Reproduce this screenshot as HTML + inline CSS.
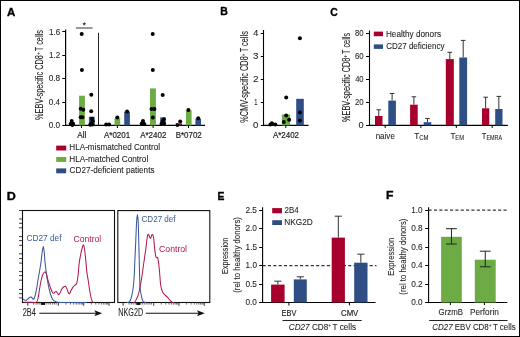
<!DOCTYPE html>
<html><head><meta charset="utf-8"><style>
html,body{margin:0;padding:0;background:#fff;}
svg{display:block;font-family:"Liberation Sans", sans-serif;will-change:transform;}
</style></head><body>
<svg width="520" height="337" viewBox="0 0 520 337">
<rect x="0" y="0" width="520" height="337" fill="#fff"/>
<rect x="0.50" y="0.50" width="519.00" height="336.00" fill="none" stroke="#000" stroke-width="1"/>
<text x="7.11" y="15.60" font-size="11.48" fill="#000" font-weight="bold" stroke="#000" stroke-width="0.35" textLength="8.29" lengthAdjust="spacingAndGlyphs"><tspan font-weight="bold">A</tspan></text>
<text x="220.20" y="15.20" font-size="11.48" fill="#000" font-weight="bold" stroke="#000" stroke-width="0.35" textLength="7.58" lengthAdjust="spacingAndGlyphs"><tspan font-weight="bold">B</tspan></text>
<text x="330.27" y="15.60" font-size="11.48" fill="#000" font-weight="bold" stroke="#000" stroke-width="0.35" textLength="7.51" lengthAdjust="spacingAndGlyphs"><tspan font-weight="bold">C</tspan></text>
<text x="6.66" y="199.50" font-size="11.48" fill="#000" font-weight="bold" stroke="#000" stroke-width="0.35" textLength="9.07" lengthAdjust="spacingAndGlyphs"><tspan font-weight="bold">D</tspan></text>
<text x="217.41" y="199.50" font-size="11.48" fill="#000" font-weight="bold" stroke="#000" stroke-width="0.35" textLength="6.90" lengthAdjust="spacingAndGlyphs"><tspan font-weight="bold">E</tspan></text>
<text x="386.08" y="199.20" font-size="11.48" fill="#000" font-weight="bold" stroke="#000" stroke-width="0.35" textLength="7.47" lengthAdjust="spacingAndGlyphs"><tspan font-weight="bold">F</tspan></text>
<line x1="65.60" y1="29.50" x2="65.60" y2="125.90" stroke="#000" stroke-width="1.2" />
<line x1="65.10" y1="125.40" x2="205.00" y2="125.40" stroke="#000" stroke-width="1.1" />
<line x1="62.30" y1="125.50" x2="65.60" y2="125.50" stroke="#000" stroke-width="1" />
<text x="48.68" y="127.95" font-size="9.16" fill="#222" stroke="#222" stroke-width="0.08" textLength="11.44" lengthAdjust="spacingAndGlyphs"><tspan>0.0</tspan></text>
<line x1="62.30" y1="102.50" x2="65.60" y2="102.50" stroke="#000" stroke-width="1" />
<text x="48.68" y="104.59" font-size="9.16" fill="#222" stroke="#222" stroke-width="0.08" textLength="11.36" lengthAdjust="spacingAndGlyphs"><tspan>0.4</tspan></text>
<line x1="62.30" y1="78.50" x2="65.60" y2="78.50" stroke="#000" stroke-width="1" />
<text x="48.68" y="81.23" font-size="9.16" fill="#222" stroke="#222" stroke-width="0.08" textLength="11.48" lengthAdjust="spacingAndGlyphs"><tspan>0.8</tspan></text>
<line x1="62.30" y1="55.50" x2="65.60" y2="55.50" stroke="#000" stroke-width="1" />
<text x="48.99" y="57.87" font-size="9.16" fill="#222" stroke="#222" stroke-width="0.08" textLength="11.22" lengthAdjust="spacingAndGlyphs"><tspan>1.2</tspan></text>
<line x1="62.30" y1="31.50" x2="65.60" y2="31.50" stroke="#000" stroke-width="1" />
<text x="48.99" y="34.51" font-size="9.16" fill="#222" stroke="#222" stroke-width="0.08" textLength="11.16" lengthAdjust="spacingAndGlyphs"><tspan>1.6</tspan></text>
<text transform="translate(43.40,119.70) rotate(-90)" x="-0.26" y="0" font-size="10.32" fill="#222" stroke="#222" stroke-width="0.08" textLength="89.92" lengthAdjust="spacingAndGlyphs"><tspan>%EBV-specific CD8</tspan><tspan font-size="6.19" dy="-3.00">+ </tspan><tspan dy="3.00"> T cells</tspan></text>
<line x1="98.50" y1="32.80" x2="98.50" y2="125.40" stroke="#222" stroke-width="1" />
<line x1="75.90" y1="28.00" x2="92.60" y2="28.00" stroke="#555" stroke-width="1.2" />
<polygon points="84.30,22.00 84.80,23.21 86.11,23.31 85.11,24.16 85.42,25.44 84.30,24.75 83.18,25.44 83.49,24.16 82.49,23.31 83.80,23.21" fill="#222"/>
<rect x="79.10" y="95.70" width="5.80" height="29.70" fill="#6dab45"/>
<rect x="88.90" y="116.70" width="5.70" height="8.70" fill="#2f4e86"/>
<rect x="70.50" y="124.30" width="4.00" height="1.10" fill="#a8002c"/>
<rect x="114.50" y="118.20" width="5.70" height="7.20" fill="#6dab45"/>
<rect x="124.20" y="111.60" width="5.70" height="13.80" fill="#2f4e86"/>
<rect x="150.00" y="88.40" width="5.90" height="37.00" fill="#6dab45"/>
<rect x="160.20" y="117.40" width="5.50" height="8.00" fill="#2f4e86"/>
<rect x="185.90" y="110.20" width="5.70" height="15.20" fill="#6dab45"/>
<rect x="195.40" y="118.70" width="5.60" height="6.70" fill="#2f4e86"/>
<rect x="178.90" y="123.40" width="3.10" height="2.00" fill="#a8002c"/>
<line x1="81.50" y1="125.40" x2="81.50" y2="128.00" stroke="#000" stroke-width="1" />
<line x1="117.40" y1="125.40" x2="117.40" y2="128.00" stroke="#000" stroke-width="1" />
<line x1="153.10" y1="125.40" x2="153.10" y2="128.00" stroke="#000" stroke-width="1" />
<line x1="188.50" y1="125.40" x2="188.50" y2="128.00" stroke="#000" stroke-width="1" />
<text x="77.28" y="137.80" font-size="9.01" fill="#222" stroke="#222" stroke-width="0.2" textLength="9.06" lengthAdjust="spacingAndGlyphs"><tspan>All</tspan></text>
<text x="103.98" y="137.80" font-size="9.01" fill="#222" stroke="#222" stroke-width="0.2" textLength="26.21" lengthAdjust="spacingAndGlyphs"><tspan>A*0201</tspan></text>
<text x="140.18" y="137.80" font-size="9.01" fill="#222" stroke="#222" stroke-width="0.2" textLength="26.22" lengthAdjust="spacingAndGlyphs"><tspan>A*2402</tspan></text>
<text x="175.75" y="137.80" font-size="9.01" fill="#222" stroke="#222" stroke-width="0.2" textLength="25.95" lengthAdjust="spacingAndGlyphs"><tspan>B*0702</tspan></text>
<circle cx="71.70" cy="121.00" r="2.0" fill="#000"/>
<circle cx="70.70" cy="123.70" r="2.0" fill="#000"/>
<circle cx="73.10" cy="123.70" r="2.0" fill="#000"/>
<circle cx="72.30" cy="125.00" r="2.0" fill="#000"/>
<circle cx="81.70" cy="33.90" r="2.0" fill="#000"/>
<circle cx="81.90" cy="70.00" r="2.0" fill="#000"/>
<circle cx="80.70" cy="108.70" r="2.0" fill="#000"/>
<circle cx="83.30" cy="109.70" r="2.0" fill="#000"/>
<circle cx="80.70" cy="117.30" r="2.0" fill="#000"/>
<circle cx="82.40" cy="117.30" r="2.0" fill="#000"/>
<circle cx="91.30" cy="94.70" r="2.0" fill="#000"/>
<circle cx="91.20" cy="111.30" r="2.0" fill="#000"/>
<circle cx="92.00" cy="118.80" r="2.0" fill="#000"/>
<circle cx="92.90" cy="121.00" r="2.0" fill="#000"/>
<circle cx="91.40" cy="123.40" r="2.0" fill="#000"/>
<circle cx="92.50" cy="124.60" r="2.0" fill="#000"/>
<circle cx="90.30" cy="124.80" r="2.0" fill="#000"/>
<circle cx="106.20" cy="124.40" r="2.0" fill="#000"/>
<circle cx="109.10" cy="124.40" r="2.0" fill="#000"/>
<circle cx="117.30" cy="117.50" r="2.0" fill="#000"/>
<circle cx="127.10" cy="111.40" r="2.0" fill="#000"/>
<circle cx="143.00" cy="120.90" r="2.0" fill="#000"/>
<circle cx="141.70" cy="123.60" r="2.0" fill="#000"/>
<circle cx="144.30" cy="123.90" r="2.0" fill="#000"/>
<circle cx="151.50" cy="108.90" r="2.0" fill="#000"/>
<circle cx="154.40" cy="108.90" r="2.0" fill="#000"/>
<circle cx="152.80" cy="117.60" r="2.0" fill="#000"/>
<circle cx="152.80" cy="69.90" r="2.0" fill="#000"/>
<circle cx="152.70" cy="34.00" r="2.0" fill="#000"/>
<circle cx="162.70" cy="95.10" r="2.0" fill="#000"/>
<circle cx="163.80" cy="119.30" r="2.0" fill="#000"/>
<circle cx="162.60" cy="121.60" r="2.0" fill="#000"/>
<circle cx="164.00" cy="123.40" r="2.0" fill="#000"/>
<circle cx="161.50" cy="124.00" r="2.0" fill="#000"/>
<circle cx="180.20" cy="121.60" r="2.0" fill="#000"/>
<circle cx="177.40" cy="124.90" r="2.0" fill="#000"/>
<circle cx="188.40" cy="110.10" r="2.0" fill="#000"/>
<circle cx="198.20" cy="118.30" r="2.0" fill="#000"/>
<rect x="56.20" y="145.60" width="10.00" height="4.90" fill="#a8002c"/>
<text x="69.33" y="150.10" font-size="8.87" fill="#222" stroke="#222" stroke-width="0.08" textLength="90.81" lengthAdjust="spacingAndGlyphs"><tspan>HLA-mismatched Control</tspan></text>
<rect x="56.20" y="157.00" width="10.00" height="4.90" fill="#6dab45"/>
<text x="69.33" y="161.50" font-size="8.87" fill="#222" stroke="#222" stroke-width="0.08" textLength="78.92" lengthAdjust="spacingAndGlyphs"><tspan>HLA-matched Control</tspan></text>
<rect x="56.20" y="168.40" width="10.00" height="4.90" fill="#2f4e86"/>
<text x="69.59" y="172.80" font-size="8.87" fill="#222" stroke="#222" stroke-width="0.08" textLength="84.91" lengthAdjust="spacingAndGlyphs"><tspan>CD27-deficient patients</tspan></text>
<line x1="263.50" y1="30.00" x2="263.50" y2="125.90" stroke="#000" stroke-width="1.1" />
<line x1="263.00" y1="125.40" x2="308.60" y2="125.40" stroke="#000" stroke-width="1.1" />
<line x1="260.80" y1="125.50" x2="263.50" y2="125.50" stroke="#000" stroke-width="1" />
<text x="253.12" y="127.95" font-size="9.16" fill="#222" stroke="#222" stroke-width="0.08" textLength="5.35" lengthAdjust="spacingAndGlyphs"><tspan>0</tspan></text>
<line x1="260.80" y1="102.50" x2="263.50" y2="102.50" stroke="#000" stroke-width="1" />
<text x="254.16" y="104.85" font-size="9.16" fill="#222" stroke="#222" stroke-width="0.08" textLength="3.22" lengthAdjust="spacingAndGlyphs"><tspan>1</tspan></text>
<line x1="260.80" y1="79.50" x2="263.50" y2="79.50" stroke="#000" stroke-width="1" />
<text x="252.99" y="81.75" font-size="9.16" fill="#222" stroke="#222" stroke-width="0.08" textLength="5.62" lengthAdjust="spacingAndGlyphs"><tspan>2</tspan></text>
<line x1="260.80" y1="56.50" x2="263.50" y2="56.50" stroke="#000" stroke-width="1" />
<text x="253.13" y="58.65" font-size="9.16" fill="#222" stroke="#222" stroke-width="0.08" textLength="5.40" lengthAdjust="spacingAndGlyphs"><tspan>3</tspan></text>
<line x1="260.80" y1="33.50" x2="263.50" y2="33.50" stroke="#000" stroke-width="1" />
<text x="253.29" y="35.55" font-size="9.16" fill="#222" stroke="#222" stroke-width="0.08" textLength="5.08" lengthAdjust="spacingAndGlyphs"><tspan>4</tspan></text>
<text transform="translate(247.60,122.50) rotate(-90)" x="-0.26" y="0" font-size="10.32" fill="#222" stroke="#222" stroke-width="0.08" textLength="91.62" lengthAdjust="spacingAndGlyphs"><tspan>%CMV-specific CD8</tspan><tspan font-size="6.19" dy="-3.00">+ </tspan><tspan dy="3.00"> T cells</tspan></text>
<rect x="281.90" y="114.50" width="8.20" height="10.90" fill="#6dab45"/>
<rect x="296.20" y="98.80" width="7.60" height="26.60" fill="#2f4e86"/>
<line x1="285.80" y1="125.40" x2="285.80" y2="128.00" stroke="#000" stroke-width="1" />
<text x="272.88" y="137.80" font-size="9.01" fill="#222" stroke="#222" stroke-width="0.2" textLength="26.12" lengthAdjust="spacingAndGlyphs"><tspan>A*2402</tspan></text>
<circle cx="270.40" cy="124.60" r="2.0" fill="#000"/>
<circle cx="271.90" cy="123.20" r="2.0" fill="#000"/>
<circle cx="275.30" cy="124.50" r="2.0" fill="#000"/>
<circle cx="286.20" cy="97.60" r="2.0" fill="#000"/>
<circle cx="286.20" cy="115.50" r="2.0" fill="#000"/>
<circle cx="283.80" cy="121.90" r="2.0" fill="#000"/>
<circle cx="289.10" cy="119.80" r="2.0" fill="#000"/>
<circle cx="299.90" cy="112.60" r="2.0" fill="#000"/>
<circle cx="299.90" cy="120.40" r="2.0" fill="#000"/>
<circle cx="299.90" cy="38.30" r="2.0" fill="#000"/>
<line x1="369.50" y1="30.50" x2="369.50" y2="125.90" stroke="#000" stroke-width="1.1" />
<line x1="369.00" y1="125.40" x2="507.80" y2="125.40" stroke="#000" stroke-width="1.1" />
<line x1="366.00" y1="125.50" x2="369.50" y2="125.50" stroke="#000" stroke-width="1" />
<text x="358.54" y="127.95" font-size="9.16" fill="#222" stroke="#222" stroke-width="0.08" textLength="5.12" lengthAdjust="spacingAndGlyphs"><tspan>0</tspan></text>
<line x1="366.00" y1="102.50" x2="369.50" y2="102.50" stroke="#000" stroke-width="1" />
<text x="354.91" y="104.85" font-size="9.16" fill="#222" stroke="#222" stroke-width="0.08" textLength="8.70" lengthAdjust="spacingAndGlyphs"><tspan>20</tspan></text>
<line x1="366.00" y1="79.50" x2="369.50" y2="79.50" stroke="#000" stroke-width="1" />
<text x="355.13" y="81.75" font-size="9.16" fill="#222" stroke="#222" stroke-width="0.08" textLength="8.47" lengthAdjust="spacingAndGlyphs"><tspan>40</tspan></text>
<line x1="366.00" y1="56.50" x2="369.50" y2="56.50" stroke="#000" stroke-width="1" />
<text x="354.90" y="58.65" font-size="9.16" fill="#222" stroke="#222" stroke-width="0.08" textLength="8.70" lengthAdjust="spacingAndGlyphs"><tspan>60</tspan></text>
<line x1="366.00" y1="33.50" x2="369.50" y2="33.50" stroke="#000" stroke-width="1" />
<text x="354.96" y="35.55" font-size="9.16" fill="#222" stroke="#222" stroke-width="0.08" textLength="8.64" lengthAdjust="spacingAndGlyphs"><tspan>80</tspan></text>
<text transform="translate(349.50,121.70) rotate(-90)" x="-0.25" y="0" font-size="10.32" fill="#222" stroke="#222" stroke-width="0.08" textLength="89.01" lengthAdjust="spacingAndGlyphs"><tspan>%EBV-specific CD8</tspan><tspan font-size="6.19" dy="-3.00">+ </tspan><tspan dy="3.00"> T cells</tspan></text>
<line x1="378.75" y1="109.80" x2="378.75" y2="116.00" stroke="#333" stroke-width="1" />
<line x1="376.45" y1="109.80" x2="381.05" y2="109.80" stroke="#333" stroke-width="1" />
<rect x="375.00" y="116.00" width="7.50" height="9.40" fill="#a8002c"/>
<line x1="392.10" y1="93.50" x2="392.10" y2="100.60" stroke="#333" stroke-width="1" />
<line x1="389.80" y1="93.50" x2="394.40" y2="93.50" stroke="#333" stroke-width="1" />
<rect x="388.30" y="100.60" width="7.60" height="24.80" fill="#2f4e86"/>
<line x1="413.90" y1="96.80" x2="413.90" y2="104.70" stroke="#333" stroke-width="1" />
<line x1="411.60" y1="96.80" x2="416.20" y2="96.80" stroke="#333" stroke-width="1" />
<rect x="410.10" y="104.70" width="7.60" height="20.70" fill="#a8002c"/>
<line x1="427.50" y1="118.40" x2="427.50" y2="122.20" stroke="#333" stroke-width="1" />
<line x1="425.20" y1="118.40" x2="429.80" y2="118.40" stroke="#333" stroke-width="1" />
<rect x="423.70" y="122.20" width="7.60" height="3.20" fill="#2f4e86"/>
<line x1="449.80" y1="52.30" x2="449.80" y2="59.10" stroke="#333" stroke-width="1" />
<line x1="447.50" y1="52.30" x2="452.10" y2="52.30" stroke="#333" stroke-width="1" />
<rect x="445.80" y="59.10" width="8.00" height="66.30" fill="#a8002c"/>
<line x1="463.20" y1="40.40" x2="463.20" y2="57.50" stroke="#333" stroke-width="1" />
<line x1="460.90" y1="40.40" x2="465.50" y2="40.40" stroke="#333" stroke-width="1" />
<rect x="459.30" y="57.50" width="7.80" height="67.90" fill="#2f4e86"/>
<line x1="485.65" y1="97.20" x2="485.65" y2="108.30" stroke="#333" stroke-width="1" />
<line x1="483.35" y1="97.20" x2="487.95" y2="97.20" stroke="#333" stroke-width="1" />
<rect x="482.00" y="108.30" width="7.30" height="17.10" fill="#a8002c"/>
<line x1="498.85" y1="96.40" x2="498.85" y2="109.00" stroke="#333" stroke-width="1" />
<line x1="496.55" y1="96.40" x2="501.15" y2="96.40" stroke="#333" stroke-width="1" />
<rect x="495.20" y="109.00" width="7.30" height="16.40" fill="#2f4e86"/>
<line x1="385.20" y1="125.40" x2="385.20" y2="128.00" stroke="#000" stroke-width="1" />
<line x1="420.90" y1="125.40" x2="420.90" y2="128.00" stroke="#000" stroke-width="1" />
<line x1="456.30" y1="125.40" x2="456.30" y2="128.00" stroke="#000" stroke-width="1" />
<line x1="492.20" y1="125.40" x2="492.20" y2="128.00" stroke="#000" stroke-width="1" />
<text x="375.67" y="138.60" font-size="9.01" fill="#222" stroke="#222" stroke-width="0.08" textLength="19.19" lengthAdjust="spacingAndGlyphs"><tspan>naive</tspan></text>
<text x="414.21" y="138.50" font-size="9.74" fill="#222" stroke="#222" stroke-width="0.08" textLength="14.38" lengthAdjust="spacingAndGlyphs"><tspan>T</tspan><tspan font-size="7.01" dy="1.80">CM</tspan></text>
<text x="450.42" y="138.50" font-size="9.74" fill="#222" stroke="#222" stroke-width="0.08" textLength="13.66" lengthAdjust="spacingAndGlyphs"><tspan>T</tspan><tspan font-size="7.01" dy="1.80">EM</tspan></text>
<text x="481.83" y="138.50" font-size="9.74" fill="#222" stroke="#222" stroke-width="0.08" textLength="20.18" lengthAdjust="spacingAndGlyphs"><tspan>T</tspan><tspan font-size="7.01" dy="1.80">EMRA</tspan></text>
<rect x="373.80" y="31.60" width="9.20" height="4.60" fill="#a8002c"/>
<rect x="373.80" y="44.40" width="9.20" height="4.50" fill="#2f4e86"/>
<text x="385.93" y="36.80" font-size="9.16" fill="#222" stroke="#222" stroke-width="0.08" textLength="55.07" lengthAdjust="spacingAndGlyphs"><tspan>Healthy donors</tspan></text>
<text x="386.19" y="49.20" font-size="9.16" fill="#222" stroke="#222" stroke-width="0.08" textLength="58.32" lengthAdjust="spacingAndGlyphs"><tspan>CD27 deficiency</tspan></text>
<rect x="22.5" y="210.5" width="92.0" height="92.0" fill="none" stroke="#111" stroke-width="1.1"/>
<rect x="117.8" y="210.6" width="92.00000000000001" height="91.9" fill="none" stroke="#111" stroke-width="1.1"/>
<line x1="19.10" y1="210.50" x2="22.50" y2="210.50" stroke="#222" stroke-width="0.9" />
<line x1="19.10" y1="219.00" x2="22.50" y2="219.00" stroke="#222" stroke-width="0.9" />
<line x1="19.10" y1="223.30" x2="22.50" y2="223.30" stroke="#222" stroke-width="0.9" />
<line x1="19.10" y1="227.80" x2="22.50" y2="227.80" stroke="#222" stroke-width="0.9" />
<line x1="19.10" y1="236.60" x2="22.50" y2="236.60" stroke="#222" stroke-width="0.9" />
<line x1="19.10" y1="240.60" x2="22.50" y2="240.60" stroke="#222" stroke-width="0.9" />
<line x1="19.10" y1="245.30" x2="22.50" y2="245.30" stroke="#222" stroke-width="0.9" />
<line x1="19.10" y1="253.80" x2="22.50" y2="253.80" stroke="#222" stroke-width="0.9" />
<line x1="19.10" y1="258.50" x2="22.50" y2="258.50" stroke="#222" stroke-width="0.9" />
<line x1="19.10" y1="263.10" x2="22.50" y2="263.10" stroke="#222" stroke-width="0.9" />
<line x1="19.10" y1="271.60" x2="22.50" y2="271.60" stroke="#222" stroke-width="0.9" />
<line x1="19.10" y1="275.60" x2="22.50" y2="275.60" stroke="#222" stroke-width="0.9" />
<line x1="19.10" y1="280.20" x2="22.50" y2="280.20" stroke="#222" stroke-width="0.9" />
<line x1="19.10" y1="289.40" x2="22.50" y2="289.40" stroke="#222" stroke-width="0.9" />
<line x1="19.10" y1="293.70" x2="22.50" y2="293.70" stroke="#222" stroke-width="0.9" />
<line x1="19.10" y1="297.90" x2="22.50" y2="297.90" stroke="#222" stroke-width="0.9" />
<line x1="27.80" y1="302.40" x2="27.80" y2="305.80" stroke="#222" stroke-width="0.9" />
<line x1="58.40" y1="302.40" x2="58.40" y2="305.80" stroke="#222" stroke-width="0.9" />
<line x1="83.70" y1="302.40" x2="83.70" y2="305.80" stroke="#222" stroke-width="0.9" />
<line x1="109.00" y1="302.40" x2="109.00" y2="305.80" stroke="#222" stroke-width="0.9" />
<line x1="33.70" y1="302.40" x2="33.70" y2="304.60" stroke="#333" stroke-width="0.7" />
<line x1="36.10" y1="302.40" x2="36.10" y2="304.60" stroke="#333" stroke-width="0.7" />
<line x1="37.90" y1="302.40" x2="37.90" y2="304.60" stroke="#333" stroke-width="0.7" />
<line x1="39.90" y1="302.40" x2="39.90" y2="304.60" stroke="#333" stroke-width="0.7" />
<line x1="41.30" y1="302.40" x2="41.30" y2="304.60" stroke="#333" stroke-width="0.7" />
<line x1="42.00" y1="302.40" x2="42.00" y2="304.60" stroke="#333" stroke-width="0.7" />
<line x1="42.70" y1="302.40" x2="42.70" y2="304.60" stroke="#333" stroke-width="0.7" />
<line x1="43.40" y1="302.40" x2="43.40" y2="304.60" stroke="#333" stroke-width="0.7" />
<line x1="44.10" y1="302.40" x2="44.10" y2="304.60" stroke="#333" stroke-width="0.7" />
<line x1="44.80" y1="302.40" x2="44.80" y2="304.60" stroke="#333" stroke-width="0.7" />
<line x1="46.90" y1="302.40" x2="46.90" y2="304.60" stroke="#333" stroke-width="0.7" />
<line x1="48.90" y1="302.40" x2="48.90" y2="304.60" stroke="#333" stroke-width="0.7" />
<line x1="50.70" y1="302.40" x2="50.70" y2="304.60" stroke="#333" stroke-width="0.7" />
<line x1="52.70" y1="302.40" x2="52.70" y2="304.60" stroke="#333" stroke-width="0.7" />
<line x1="54.50" y1="302.40" x2="54.50" y2="304.60" stroke="#333" stroke-width="0.7" />
<line x1="56.20" y1="302.40" x2="56.20" y2="304.60" stroke="#333" stroke-width="0.7" />
<line x1="66.02" y1="302.40" x2="66.02" y2="304.60" stroke="#333" stroke-width="0.7" />
<line x1="70.47" y1="302.40" x2="70.47" y2="304.60" stroke="#333" stroke-width="0.7" />
<line x1="73.63" y1="302.40" x2="73.63" y2="304.60" stroke="#333" stroke-width="0.7" />
<line x1="76.08" y1="302.40" x2="76.08" y2="304.60" stroke="#333" stroke-width="0.7" />
<line x1="78.09" y1="302.40" x2="78.09" y2="304.60" stroke="#333" stroke-width="0.7" />
<line x1="79.78" y1="302.40" x2="79.78" y2="304.60" stroke="#333" stroke-width="0.7" />
<line x1="81.25" y1="302.40" x2="81.25" y2="304.60" stroke="#333" stroke-width="0.7" />
<line x1="82.54" y1="302.40" x2="82.54" y2="304.60" stroke="#333" stroke-width="0.7" />
<line x1="91.32" y1="302.40" x2="91.32" y2="304.60" stroke="#333" stroke-width="0.7" />
<line x1="95.77" y1="302.40" x2="95.77" y2="304.60" stroke="#333" stroke-width="0.7" />
<line x1="98.93" y1="302.40" x2="98.93" y2="304.60" stroke="#333" stroke-width="0.7" />
<line x1="101.38" y1="302.40" x2="101.38" y2="304.60" stroke="#333" stroke-width="0.7" />
<line x1="103.39" y1="302.40" x2="103.39" y2="304.60" stroke="#333" stroke-width="0.7" />
<line x1="105.08" y1="302.40" x2="105.08" y2="304.60" stroke="#333" stroke-width="0.7" />
<line x1="106.55" y1="302.40" x2="106.55" y2="304.60" stroke="#333" stroke-width="0.7" />
<line x1="107.84" y1="302.40" x2="107.84" y2="304.60" stroke="#333" stroke-width="0.7" />
<line x1="123.10" y1="302.40" x2="123.10" y2="305.80" stroke="#222" stroke-width="0.9" />
<line x1="153.70" y1="302.40" x2="153.70" y2="305.80" stroke="#222" stroke-width="0.9" />
<line x1="179.00" y1="302.40" x2="179.00" y2="305.80" stroke="#222" stroke-width="0.9" />
<line x1="204.30" y1="302.40" x2="204.30" y2="305.80" stroke="#222" stroke-width="0.9" />
<line x1="129.00" y1="302.40" x2="129.00" y2="304.60" stroke="#333" stroke-width="0.7" />
<line x1="131.40" y1="302.40" x2="131.40" y2="304.60" stroke="#333" stroke-width="0.7" />
<line x1="133.20" y1="302.40" x2="133.20" y2="304.60" stroke="#333" stroke-width="0.7" />
<line x1="135.20" y1="302.40" x2="135.20" y2="304.60" stroke="#333" stroke-width="0.7" />
<line x1="136.60" y1="302.40" x2="136.60" y2="304.60" stroke="#333" stroke-width="0.7" />
<line x1="137.30" y1="302.40" x2="137.30" y2="304.60" stroke="#333" stroke-width="0.7" />
<line x1="138.00" y1="302.40" x2="138.00" y2="304.60" stroke="#333" stroke-width="0.7" />
<line x1="138.70" y1="302.40" x2="138.70" y2="304.60" stroke="#333" stroke-width="0.7" />
<line x1="139.40" y1="302.40" x2="139.40" y2="304.60" stroke="#333" stroke-width="0.7" />
<line x1="140.10" y1="302.40" x2="140.10" y2="304.60" stroke="#333" stroke-width="0.7" />
<line x1="142.20" y1="302.40" x2="142.20" y2="304.60" stroke="#333" stroke-width="0.7" />
<line x1="144.20" y1="302.40" x2="144.20" y2="304.60" stroke="#333" stroke-width="0.7" />
<line x1="146.00" y1="302.40" x2="146.00" y2="304.60" stroke="#333" stroke-width="0.7" />
<line x1="148.00" y1="302.40" x2="148.00" y2="304.60" stroke="#333" stroke-width="0.7" />
<line x1="149.80" y1="302.40" x2="149.80" y2="304.60" stroke="#333" stroke-width="0.7" />
<line x1="151.50" y1="302.40" x2="151.50" y2="304.60" stroke="#333" stroke-width="0.7" />
<line x1="161.32" y1="302.40" x2="161.32" y2="304.60" stroke="#333" stroke-width="0.7" />
<line x1="165.77" y1="302.40" x2="165.77" y2="304.60" stroke="#333" stroke-width="0.7" />
<line x1="168.93" y1="302.40" x2="168.93" y2="304.60" stroke="#333" stroke-width="0.7" />
<line x1="171.38" y1="302.40" x2="171.38" y2="304.60" stroke="#333" stroke-width="0.7" />
<line x1="173.39" y1="302.40" x2="173.39" y2="304.60" stroke="#333" stroke-width="0.7" />
<line x1="175.08" y1="302.40" x2="175.08" y2="304.60" stroke="#333" stroke-width="0.7" />
<line x1="176.55" y1="302.40" x2="176.55" y2="304.60" stroke="#333" stroke-width="0.7" />
<line x1="177.84" y1="302.40" x2="177.84" y2="304.60" stroke="#333" stroke-width="0.7" />
<line x1="186.62" y1="302.40" x2="186.62" y2="304.60" stroke="#333" stroke-width="0.7" />
<line x1="191.07" y1="302.40" x2="191.07" y2="304.60" stroke="#333" stroke-width="0.7" />
<line x1="194.23" y1="302.40" x2="194.23" y2="304.60" stroke="#333" stroke-width="0.7" />
<line x1="196.68" y1="302.40" x2="196.68" y2="304.60" stroke="#333" stroke-width="0.7" />
<line x1="198.69" y1="302.40" x2="198.69" y2="304.60" stroke="#333" stroke-width="0.7" />
<line x1="200.38" y1="302.40" x2="200.38" y2="304.60" stroke="#333" stroke-width="0.7" />
<line x1="201.85" y1="302.40" x2="201.85" y2="304.60" stroke="#333" stroke-width="0.7" />
<line x1="203.14" y1="302.40" x2="203.14" y2="304.60" stroke="#333" stroke-width="0.7" />
<rect x="41.20" y="302.40" width="3.80" height="2.50" fill="#111"/>
<rect x="136.50" y="302.40" width="3.80" height="2.50" fill="#111"/>
<path d="M22.60,298.60 C22.92,298.83 23.85,299.73 24.50,300.00 C25.15,300.27 25.83,300.45 26.50,300.20 C27.17,299.95 27.82,299.05 28.50,298.50 C29.18,297.95 29.98,296.98 30.60,296.90 C31.22,296.82 31.70,297.62 32.20,298.00 C32.70,298.38 33.13,299.53 33.60,299.20 C34.07,298.87 34.50,297.75 35.00,296.00 C35.50,294.25 36.10,291.37 36.60,288.70 C37.10,286.03 37.50,282.95 38.00,280.00 C38.50,277.05 39.10,274.00 39.60,271.00 C40.10,268.00 40.57,265.17 41.00,262.00 C41.43,258.83 41.82,254.60 42.20,252.00 C42.58,249.40 42.97,246.40 43.30,246.40 C43.63,246.40 43.90,249.23 44.20,252.00 C44.50,254.77 44.72,259.33 45.10,263.00 C45.48,266.67 46.05,270.75 46.50,274.00 C46.95,277.25 47.37,280.05 47.80,282.50 C48.23,284.95 48.63,286.70 49.10,288.70 C49.57,290.70 50.02,292.73 50.60,294.50 C51.18,296.27 51.87,298.15 52.60,299.30 C53.33,300.45 54.18,300.90 55.00,301.40 C55.82,301.90 56.33,302.12 57.50,302.30 C58.67,302.48 59.08,302.47 62.00,302.50 C64.92,302.53 70.83,302.50 75.00,302.50 C79.17,302.50 85.00,302.50 87.00,302.50" fill="none" stroke="#3a5898" stroke-width="1.05"/>
<path d="M24.50,302.20 C25.42,302.20 28.42,302.17 30.00,302.20 C31.58,302.23 32.93,302.40 34.00,302.40 C35.07,302.40 35.73,302.85 36.40,302.20 C37.07,301.55 37.47,300.75 38.00,298.50 C38.53,296.25 39.10,291.62 39.60,288.70 C40.10,285.78 40.50,283.28 41.00,281.00 C41.50,278.72 42.05,276.48 42.60,275.00 C43.15,273.52 43.77,272.47 44.30,272.10 C44.83,271.73 45.35,272.15 45.80,272.80 C46.25,273.45 46.65,274.80 47.00,276.00 C47.35,277.20 47.50,278.58 47.90,280.00 C48.30,281.42 48.92,283.05 49.40,284.50 C49.88,285.95 50.33,287.45 50.80,288.70 C51.27,289.95 51.73,291.23 52.20,292.00 C52.67,292.77 53.13,293.30 53.60,293.30 C54.07,293.30 54.57,292.28 55.00,292.00 C55.43,291.72 55.80,291.43 56.20,291.60 C56.60,291.77 57.00,292.50 57.40,293.00 C57.80,293.50 58.17,294.60 58.60,294.60 C59.03,294.60 59.47,293.92 60.00,293.00 C60.53,292.08 61.22,290.10 61.80,289.10 C62.38,288.10 62.90,287.48 63.50,287.00 C64.10,286.52 64.85,285.95 65.40,286.20 C65.95,286.45 66.33,287.45 66.80,288.50 C67.27,289.55 67.75,291.65 68.20,292.50 C68.65,293.35 69.03,293.93 69.50,293.60 C69.97,293.27 70.42,291.58 71.00,290.50 C71.58,289.42 72.33,287.98 73.00,287.10 C73.67,286.22 74.37,285.88 75.00,285.20 C75.63,284.52 76.30,284.53 76.80,283.00 C77.30,281.47 77.60,279.33 78.00,276.00 C78.40,272.67 78.72,266.77 79.20,263.00 C79.68,259.23 80.38,255.98 80.90,253.40 C81.42,250.82 81.87,248.90 82.30,247.50 C82.73,246.10 83.12,244.67 83.50,245.00 C83.88,245.33 84.23,247.08 84.60,249.50 C84.97,251.92 85.32,255.68 85.70,259.50 C86.08,263.32 86.47,268.82 86.90,272.40 C87.33,275.98 87.85,278.07 88.30,281.00 C88.75,283.93 89.17,287.33 89.60,290.00 C90.03,292.67 90.45,295.07 90.90,297.00 C91.35,298.93 91.82,300.68 92.30,301.60 C92.78,302.52 93.55,302.35 93.80,302.50" fill="none" stroke="#b01c48" stroke-width="1.05"/>
<path d="M126.50,302.40 C126.97,302.33 128.55,302.65 129.30,302.00 C130.05,301.35 130.50,300.00 131.00,298.50 C131.50,297.00 131.92,294.97 132.30,293.00 C132.68,291.03 132.98,289.53 133.30,286.70 C133.62,283.87 133.93,280.45 134.20,276.00 C134.47,271.55 134.63,266.00 134.90,260.00 C135.17,254.00 135.52,246.33 135.80,240.00 C136.08,233.67 136.33,226.25 136.60,222.00 C136.87,217.75 137.13,214.50 137.40,214.50 C137.67,214.50 137.98,217.75 138.20,222.00 C138.42,226.25 138.53,233.67 138.70,240.00 C138.87,246.33 138.98,252.22 139.20,260.00 C139.42,267.78 139.67,280.87 140.00,286.70 C140.33,292.53 140.80,292.78 141.20,295.00 C141.60,297.22 142.02,298.83 142.40,300.00 C142.78,301.17 142.90,301.60 143.50,302.00 C144.10,302.40 145.58,302.33 146.00,302.40" fill="none" stroke="#3a5898" stroke-width="1.05"/>
<path d="M133.00,302.40 C133.28,302.35 134.12,302.67 134.70,302.10 C135.28,301.53 135.95,300.10 136.50,299.00 C137.05,297.90 137.57,296.75 138.00,295.50 C138.43,294.25 138.53,294.08 139.10,291.50 C139.67,288.92 140.65,284.55 141.40,280.00 C142.15,275.45 142.85,269.48 143.60,264.20 C144.35,258.92 145.33,252.50 145.90,248.30 C146.47,244.10 146.67,241.28 147.00,239.00 C147.33,236.72 147.58,235.27 147.90,234.60 C148.22,233.93 148.48,234.37 148.90,235.00 C149.32,235.63 149.93,238.37 150.40,238.40 C150.87,238.43 151.33,235.83 151.70,235.20 C152.07,234.57 152.28,234.13 152.60,234.60 C152.92,235.07 153.22,235.33 153.60,238.00 C153.98,240.67 154.50,247.40 154.90,250.60 C155.30,253.80 155.65,256.05 156.00,257.20 C156.35,258.35 156.68,257.28 157.00,257.50 C157.32,257.72 157.52,256.58 157.90,258.50 C158.28,260.42 158.85,264.67 159.30,269.00 C159.75,273.33 160.15,280.92 160.60,284.50 C161.05,288.08 161.52,289.00 162.00,290.50 C162.48,292.00 162.92,292.67 163.50,293.50 C164.08,294.33 164.78,294.82 165.50,295.50 C166.22,296.18 167.05,296.78 167.80,297.60 C168.55,298.42 169.30,299.63 170.00,300.40 C170.70,301.17 171.33,301.87 172.00,302.20 C172.67,302.53 173.67,302.37 174.00,302.40" fill="none" stroke="#b01c48" stroke-width="1.05"/>
<text x="26.48" y="241.10" font-size="9.30" fill="#3d5a96" stroke="#3d5a96" stroke-width="0.01" textLength="35.01" lengthAdjust="spacingAndGlyphs"><tspan>CD27 def</tspan></text>
<text x="73.57" y="241.80" font-size="9.30" fill="#b01c48" stroke="#b01c48" stroke-width="0.01" textLength="27.61" lengthAdjust="spacingAndGlyphs"><tspan>Control</tspan></text>
<text x="141.49" y="222.20" font-size="9.30" fill="#3d5a96" stroke="#3d5a96" stroke-width="0.01" textLength="34.10" lengthAdjust="spacingAndGlyphs"><tspan>CD27 def</tspan></text>
<text x="159.06" y="251.60" font-size="9.30" fill="#b01c48" stroke="#b01c48" stroke-width="0.01" textLength="28.02" lengthAdjust="spacingAndGlyphs"><tspan>Control</tspan></text>
<text x="22.63" y="315.60" font-size="11.34" fill="#222" stroke="#222" stroke-width="0.08" textLength="13.09" lengthAdjust="spacingAndGlyphs"><tspan>2B4</tspan></text>
<line x1="39.40" y1="313.20" x2="96.00" y2="313.20" stroke="#111" stroke-width="1.1" />
<path d="M94.3,310.2 L102.2,313.2 L94.3,316.2 L96.0,313.2 Z" fill="#111"/>
<text x="118.31" y="315.90" font-size="11.05" fill="#222" stroke="#222" stroke-width="0.08" textLength="24.84" lengthAdjust="spacingAndGlyphs"><tspan>NKG2D</tspan></text>
<line x1="145.80" y1="313.20" x2="199.00" y2="313.20" stroke="#111" stroke-width="1.1" />
<path d="M196.9,310.2 L204.8,313.2 L196.9,316.2 L198.6,313.2 Z" fill="#111"/>
<line x1="262.60" y1="207.20" x2="262.60" y2="303.00" stroke="#000" stroke-width="1.1" />
<line x1="262.10" y1="302.50" x2="375.60" y2="302.50" stroke="#000" stroke-width="1.1" />
<line x1="259.20" y1="302.50" x2="262.60" y2="302.50" stroke="#000" stroke-width="1" />
<text x="245.48" y="305.05" font-size="9.16" fill="#222" stroke="#222" stroke-width="0.08" textLength="11.44" lengthAdjust="spacingAndGlyphs"><tspan>0.0</tspan></text>
<line x1="259.20" y1="284.50" x2="262.60" y2="284.50" stroke="#000" stroke-width="1" />
<text x="245.48" y="286.60" font-size="9.16" fill="#222" stroke="#222" stroke-width="0.08" textLength="11.47" lengthAdjust="spacingAndGlyphs"><tspan>0.5</tspan></text>
<line x1="259.20" y1="265.50" x2="262.60" y2="265.50" stroke="#000" stroke-width="1" />
<text x="245.58" y="268.15" font-size="9.16" fill="#222" stroke="#222" stroke-width="0.08" textLength="11.34" lengthAdjust="spacingAndGlyphs"><tspan>1.0</tspan></text>
<line x1="259.20" y1="247.50" x2="262.60" y2="247.50" stroke="#000" stroke-width="1" />
<text x="245.58" y="249.70" font-size="9.16" fill="#222" stroke="#222" stroke-width="0.08" textLength="11.37" lengthAdjust="spacingAndGlyphs"><tspan>1.5</tspan></text>
<line x1="259.20" y1="228.50" x2="262.60" y2="228.50" stroke="#000" stroke-width="1" />
<text x="245.38" y="231.25" font-size="9.16" fill="#222" stroke="#222" stroke-width="0.08" textLength="11.54" lengthAdjust="spacingAndGlyphs"><tspan>2.0</tspan></text>
<line x1="259.20" y1="210.50" x2="262.60" y2="210.50" stroke="#000" stroke-width="1" />
<text x="245.38" y="212.80" font-size="9.16" fill="#222" stroke="#222" stroke-width="0.08" textLength="11.57" lengthAdjust="spacingAndGlyphs"><tspan>2.5</tspan></text>
<text transform="translate(228.00,273.50) rotate(-90)" x="-0.60" y="0" font-size="9.88" fill="#222" stroke="#222" stroke-width="0.08" textLength="36.38" lengthAdjust="spacingAndGlyphs"><tspan>Expression</tspan></text>
<text transform="translate(240.00,292.30) rotate(-90)" x="-0.48" y="0" font-size="9.45" fill="#222" stroke="#222" stroke-width="0.08" textLength="75.66" lengthAdjust="spacingAndGlyphs"><tspan>(rel to healthy donors)</tspan></text>
<line x1="262.60" y1="265.70" x2="376.50" y2="265.70" stroke="#333" stroke-width="1.2" stroke-dasharray="3.1,2.25"/>
<line x1="277.85" y1="281.20" x2="277.85" y2="284.60" stroke="#333" stroke-width="1" />
<line x1="274.25" y1="281.20" x2="281.45" y2="281.20" stroke="#333" stroke-width="1" />
<rect x="271.10" y="284.60" width="13.50" height="17.90" fill="#a8002c"/>
<line x1="300.30" y1="276.80" x2="300.30" y2="279.40" stroke="#333" stroke-width="1" />
<line x1="296.70" y1="276.80" x2="303.90" y2="276.80" stroke="#333" stroke-width="1" />
<rect x="293.80" y="279.40" width="13.00" height="23.10" fill="#2f4e86"/>
<line x1="338.30" y1="216.20" x2="338.30" y2="237.60" stroke="#333" stroke-width="1" />
<line x1="334.70" y1="216.20" x2="341.90" y2="216.20" stroke="#333" stroke-width="1" />
<rect x="331.70" y="237.60" width="13.20" height="64.90" fill="#a8002c"/>
<line x1="360.85" y1="254.20" x2="360.85" y2="262.70" stroke="#333" stroke-width="1" />
<line x1="357.25" y1="254.20" x2="364.45" y2="254.20" stroke="#333" stroke-width="1" />
<rect x="354.20" y="262.70" width="13.30" height="39.80" fill="#2f4e86"/>
<line x1="288.90" y1="302.50" x2="288.90" y2="305.50" stroke="#000" stroke-width="1" />
<line x1="349.40" y1="302.50" x2="349.40" y2="305.50" stroke="#000" stroke-width="1" />
<text x="281.49" y="315.70" font-size="9.74" fill="#222" stroke="#222" stroke-width="0.18" textLength="14.84" lengthAdjust="spacingAndGlyphs"><tspan>EBV</tspan></text>
<text x="341.00" y="315.80" font-size="9.74" fill="#222" stroke="#222" stroke-width="0.18" textLength="17.33" lengthAdjust="spacingAndGlyphs"><tspan>CMV</tspan></text>
<line x1="282.50" y1="320.50" x2="361.70" y2="320.50" stroke="#222" stroke-width="1" />
<text x="288.76" y="330.30" font-size="9.01" fill="#222" stroke="#222" stroke-width="0.08" textLength="67.32" lengthAdjust="spacingAndGlyphs"><tspan font-style="italic">CD27</tspan><tspan> CD8</tspan><tspan font-size="5.41" dy="-3.00">+ </tspan><tspan dy="3.00"> T cells</tspan></text>
<rect x="272.20" y="208.10" width="9.80" height="5.20" fill="#a8002c"/>
<rect x="272.20" y="220.20" width="9.80" height="4.80" fill="#2f4e86"/>
<text x="284.50" y="213.00" font-size="8.43" fill="#222" stroke="#222" stroke-width="0.08" textLength="14.03" lengthAdjust="spacingAndGlyphs"><tspan>2B4</tspan></text>
<text x="284.22" y="224.80" font-size="9.16" fill="#222" stroke="#222" stroke-width="0.08" textLength="28.58" lengthAdjust="spacingAndGlyphs"><tspan>NKG2D</tspan></text>
<line x1="428.60" y1="207.20" x2="428.60" y2="303.00" stroke="#000" stroke-width="1.1" />
<line x1="428.10" y1="302.50" x2="507.30" y2="302.50" stroke="#000" stroke-width="1.1" />
<line x1="425.20" y1="302.50" x2="428.60" y2="302.50" stroke="#000" stroke-width="1" />
<text x="411.18" y="305.05" font-size="9.16" fill="#222" stroke="#222" stroke-width="0.08" textLength="11.44" lengthAdjust="spacingAndGlyphs"><tspan>0.0</tspan></text>
<line x1="425.20" y1="284.50" x2="428.60" y2="284.50" stroke="#000" stroke-width="1" />
<text x="411.18" y="286.61" font-size="9.16" fill="#222" stroke="#222" stroke-width="0.08" textLength="11.54" lengthAdjust="spacingAndGlyphs"><tspan>0.2</tspan></text>
<line x1="425.20" y1="265.50" x2="428.60" y2="265.50" stroke="#000" stroke-width="1" />
<text x="411.18" y="268.17" font-size="9.16" fill="#222" stroke="#222" stroke-width="0.08" textLength="11.36" lengthAdjust="spacingAndGlyphs"><tspan>0.4</tspan></text>
<line x1="425.20" y1="247.50" x2="428.60" y2="247.50" stroke="#000" stroke-width="1" />
<text x="411.18" y="249.73" font-size="9.16" fill="#222" stroke="#222" stroke-width="0.08" textLength="11.49" lengthAdjust="spacingAndGlyphs"><tspan>0.6</tspan></text>
<line x1="425.20" y1="228.50" x2="428.60" y2="228.50" stroke="#000" stroke-width="1" />
<text x="411.18" y="231.29" font-size="9.16" fill="#222" stroke="#222" stroke-width="0.08" textLength="11.48" lengthAdjust="spacingAndGlyphs"><tspan>0.8</tspan></text>
<line x1="425.20" y1="210.50" x2="428.60" y2="210.50" stroke="#000" stroke-width="1" />
<text x="411.28" y="212.85" font-size="9.16" fill="#222" stroke="#222" stroke-width="0.08" textLength="11.34" lengthAdjust="spacingAndGlyphs"><tspan>1.0</tspan></text>
<text transform="translate(393.60,275.00) rotate(-90)" x="-0.63" y="0" font-size="9.59" fill="#222" stroke="#222" stroke-width="0.08" textLength="37.93" lengthAdjust="spacingAndGlyphs"><tspan>Expression</tspan></text>
<text transform="translate(406.00,294.20) rotate(-90)" x="-0.49" y="0" font-size="9.45" fill="#222" stroke="#222" stroke-width="0.08" textLength="76.17" lengthAdjust="spacingAndGlyphs"><tspan>(rel to healthy donors)</tspan></text>
<line x1="428.60" y1="210.10" x2="507.00" y2="210.10" stroke="#333" stroke-width="1.2" stroke-dasharray="3.1,2.25"/>
<rect x="441.10" y="236.80" width="20.70" height="65.70" fill="#6dab45"/>
<line x1="451.45" y1="228.70" x2="451.45" y2="244.00" stroke="#222" stroke-width="1" />
<line x1="446.05" y1="228.70" x2="456.85" y2="228.70" stroke="#222" stroke-width="1" />
<line x1="446.05" y1="244.00" x2="456.85" y2="244.00" stroke="#222" stroke-width="1" />
<rect x="474.80" y="259.70" width="20.90" height="42.80" fill="#6dab45"/>
<line x1="485.25" y1="251.20" x2="485.25" y2="266.80" stroke="#222" stroke-width="1" />
<line x1="479.85" y1="251.20" x2="490.65" y2="251.20" stroke="#222" stroke-width="1" />
<line x1="479.85" y1="266.80" x2="490.65" y2="266.80" stroke="#222" stroke-width="1" />
<line x1="450.40" y1="302.50" x2="450.40" y2="305.10" stroke="#000" stroke-width="1" />
<line x1="484.40" y1="302.50" x2="484.40" y2="305.10" stroke="#000" stroke-width="1" />
<text x="438.61" y="315.20" font-size="9.16" fill="#222" stroke="#222" stroke-width="0.08" textLength="24.30" lengthAdjust="spacingAndGlyphs"><tspan>GrzmB</tspan></text>
<text x="469.92" y="315.20" font-size="9.16" fill="#222" stroke="#222" stroke-width="0.08" textLength="28.91" lengthAdjust="spacingAndGlyphs"><tspan>Perforin</tspan></text>
<line x1="429.20" y1="320.50" x2="507.50" y2="320.50" stroke="#222" stroke-width="1" />
<text x="432.27" y="329.60" font-size="9.16" fill="#222" stroke="#222" stroke-width="0.08" textLength="83.41" lengthAdjust="spacingAndGlyphs"><tspan font-style="italic">CD27</tspan><tspan> EBV CD8</tspan><tspan font-size="5.49" dy="-3.00">+ </tspan><tspan dy="3.00"> T cells</tspan></text>
</svg></body></html>
